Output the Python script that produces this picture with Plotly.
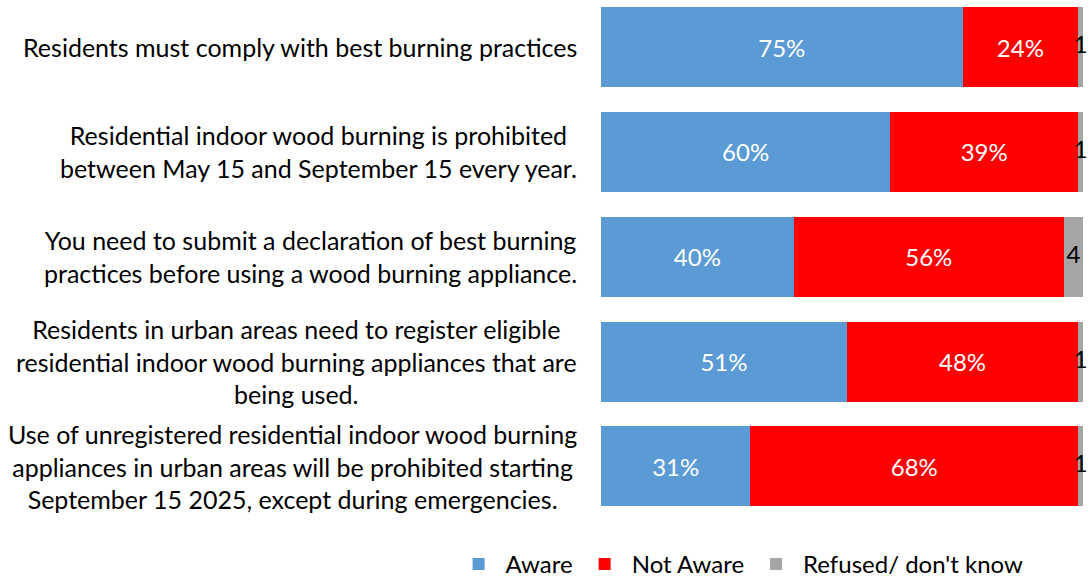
import plotly.graph_objects as go

statements = [
    "Residents must comply with best burning practices",
    "Residential indoor wood burning is prohibited<br>between May 15 and September 15 every year.",
    "You need to submit a declaration of best burning<br>practices before using a wood burning appliance.",
    "Residents in urban areas need to register eligible<br>residential indoor wood burning appliances that are<br>being used.",
    "Use of unregistered residential indoor wood burning<br>appliances in urban areas will be prohibited starting<br>September 15 2025, except during emergencies.",
]
aware = [75, 60, 40, 51, 31]
not_aware = [24, 39, 56, 48, 68]
refused = [1, 1, 4, 1, 1]

FONT = "Lato"
SIZE = 24
cats = list(range(len(statements)))

fig = go.Figure()
fig.add_trace(go.Bar(
    y=cats, x=aware, orientation="h", name="Aware",
    marker=dict(color="#5B9BD5", line=dict(width=0)),
    text=[f"{v}%" for v in aware], textposition="inside", insidetextanchor="middle",
    textfont=dict(color="white", size=SIZE, family=FONT),
))
fig.add_trace(go.Bar(
    y=cats, x=not_aware, orientation="h", name="Not Aware",
    marker=dict(color="#FF0000", line=dict(width=0)),
    text=[f"{v}%" for v in not_aware], textposition="inside", insidetextanchor="middle",
    textfont=dict(color="white", size=SIZE, family=FONT),
))
fig.add_trace(go.Bar(
    y=cats, x=refused, orientation="h", name="Refused/ don't know",
    marker=dict(color="#A5A5A5", line=dict(width=0)),
    hoverinfo="x",
))
# labels for the thin grey segments, centred on each segment
fig.add_trace(go.Scatter(
    y=cats, x=[a + n + r / 2 for a, n, r in zip(aware, not_aware, refused)],
    mode="text", text=[str(r) for r in refused],
    textfont=dict(color="black", size=SIZE, family=FONT),
    showlegend=False, cliponaxis=False, hoverinfo="skip",
))

for i, s in enumerate(statements):
    fig.add_annotation(
        x=0, xref="paper", y=i, yref="y", xanchor="right", xshift=-22,
        text=s, showarrow=False, align="center",
        font=dict(size=25, family=FONT, color="black"),
    )

fig.update_layout(
    width=1090, height=579,
    barmode="stack", bargap=0.236,
    margin=dict(l=601, r=7, t=0, b=55, autoexpand=False),
    plot_bgcolor="white", paper_bgcolor="white",
    font=dict(family=FONT, size=SIZE, color="black"),
    xaxis=dict(range=[0, 100], visible=False, fixedrange=True),
    yaxis=dict(range=[4.55, -0.45], visible=False, fixedrange=True),
    showlegend=True,
    legend=dict(orientation="h", x=-0.31, xanchor="left", y=-0.034, yanchor="top",
                itemwidth=44,
                font=dict(size=SIZE, family=FONT), traceorder="normal"),
)

fig.write_html("out.html")
